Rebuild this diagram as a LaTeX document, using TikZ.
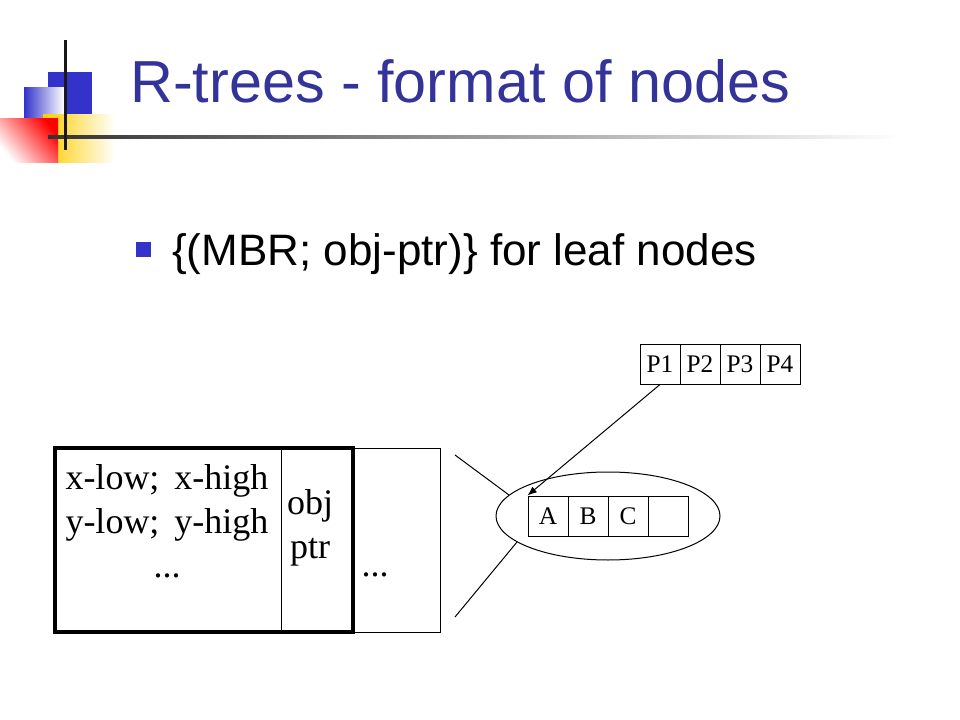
\documentclass[tikz,border=0pt]{standalone}
\usepackage{fontspec}
\setmainfont{Liberation Serif}
\newfontfamily\sansfont{Liberation Sans}
\usetikzlibrary{shapes.geometric,arrows.meta}
\definecolor{titleblue}{HTML}{333399}
\definecolor{logoblue}{HTML}{3333CC}
\definecolor{logoyellow}{HTML}{FFCC00}
\tikzset{
  px/.style={x=0.75pt,y=-0.75pt},
  thinline/.style={draw=black,line width=0.75pt},
  cell/.style={draw=black,line width=0.75pt,minimum width=30pt,minimum height=30pt,inner sep=0pt,font=\fontsize{19}{22}\selectfont},
  boxtext/.style={font=\fontsize{27}{32}\selectfont,inner sep=0pt},
}
\begin{document}
\begin{tikzpicture}[px]
\useasboundingbox[fill=white] (0,0) rectangle (960,720);
% logo
\fill[logoblue] (48,72) rectangle (92,122);
\shade[left color=logoblue,right color=white] (24,88) rectangle (64,120);
\shade[left color=logoyellow,right color=white] (43,115) rectangle (115,163);
\shade[top color=red,bottom color=white,shading angle=-50] (0,119) rectangle (58,163);
\shade[left color=black!80,right color=white] (48,135.5) rectangle (900,138.5);
\fill[black!90] (63.5,40) rectangle (66.5,150);
% title
\node[anchor=base west,inner sep=0pt,text=titleblue,font=\sansfont\fontsize{44.5}{50}\selectfont] (title) at (130,103) {R-trees - format of nodes};
% bullet
\fill[logoblue] (136,242) rectangle (151,257);
\node[anchor=base west,inner sep=0pt,font=\sansfont\fontsize{33}{40}\selectfont] (bullet) at (172,266) {\{(MBR; obj-ptr)\} for leaf nodes};
% main node record
\draw[thinline] (55,448) rectangle (440,632);
\draw[thinline] (281,448) -- (281,632);
\draw[line width=3pt] (55,448) rectangle (353,632);
\node[boxtext,anchor=base] (xl) at (167,489) {x-low;\, x-high};
\node[boxtext,anchor=base] (yl) at (167,533) {y-low;\, y-high};
\node[boxtext,anchor=base] (d1) at (167,577) {...};
\node[boxtext,anchor=base] (obj) at (310,514) {obj};
\node[boxtext,anchor=base] (ptr) at (310,558) {ptr};
\node[boxtext,anchor=base] (d2) at (375,576) {...};
% P cells
\node[cell] (p1) at (660,364) {P1};
\node[cell] (p2) at (700,364) {P2};
\node[cell] (p3) at (740,364) {P3};
\node[cell] (p4) at (780,364) {P4};
% ellipse with ABC
\node[ellipse,draw=black,line width=0.75pt,minimum width=168pt,minimum height=66pt,inner sep=0pt] (ell) at (608,516) {};
\node[cell] (ca) at (548,516) {A};
\node[cell] (cb) at (588,516) {B};
\node[cell] (cc) at (628,516) {C};
\node[cell] (cd) at (668,516) {};
% connectors
\coordinate (t1) at (455,455);
\coordinate (t2) at (455,617);
\draw[thinline] (t1) -- (ell.168);
\draw[thinline] (t2) -- (ell.196);
\draw[thinline,-{Latex[length=7pt,width=5.5pt]}] (p1.south) -- (ca.north west);
\end{tikzpicture}
\end{document}
